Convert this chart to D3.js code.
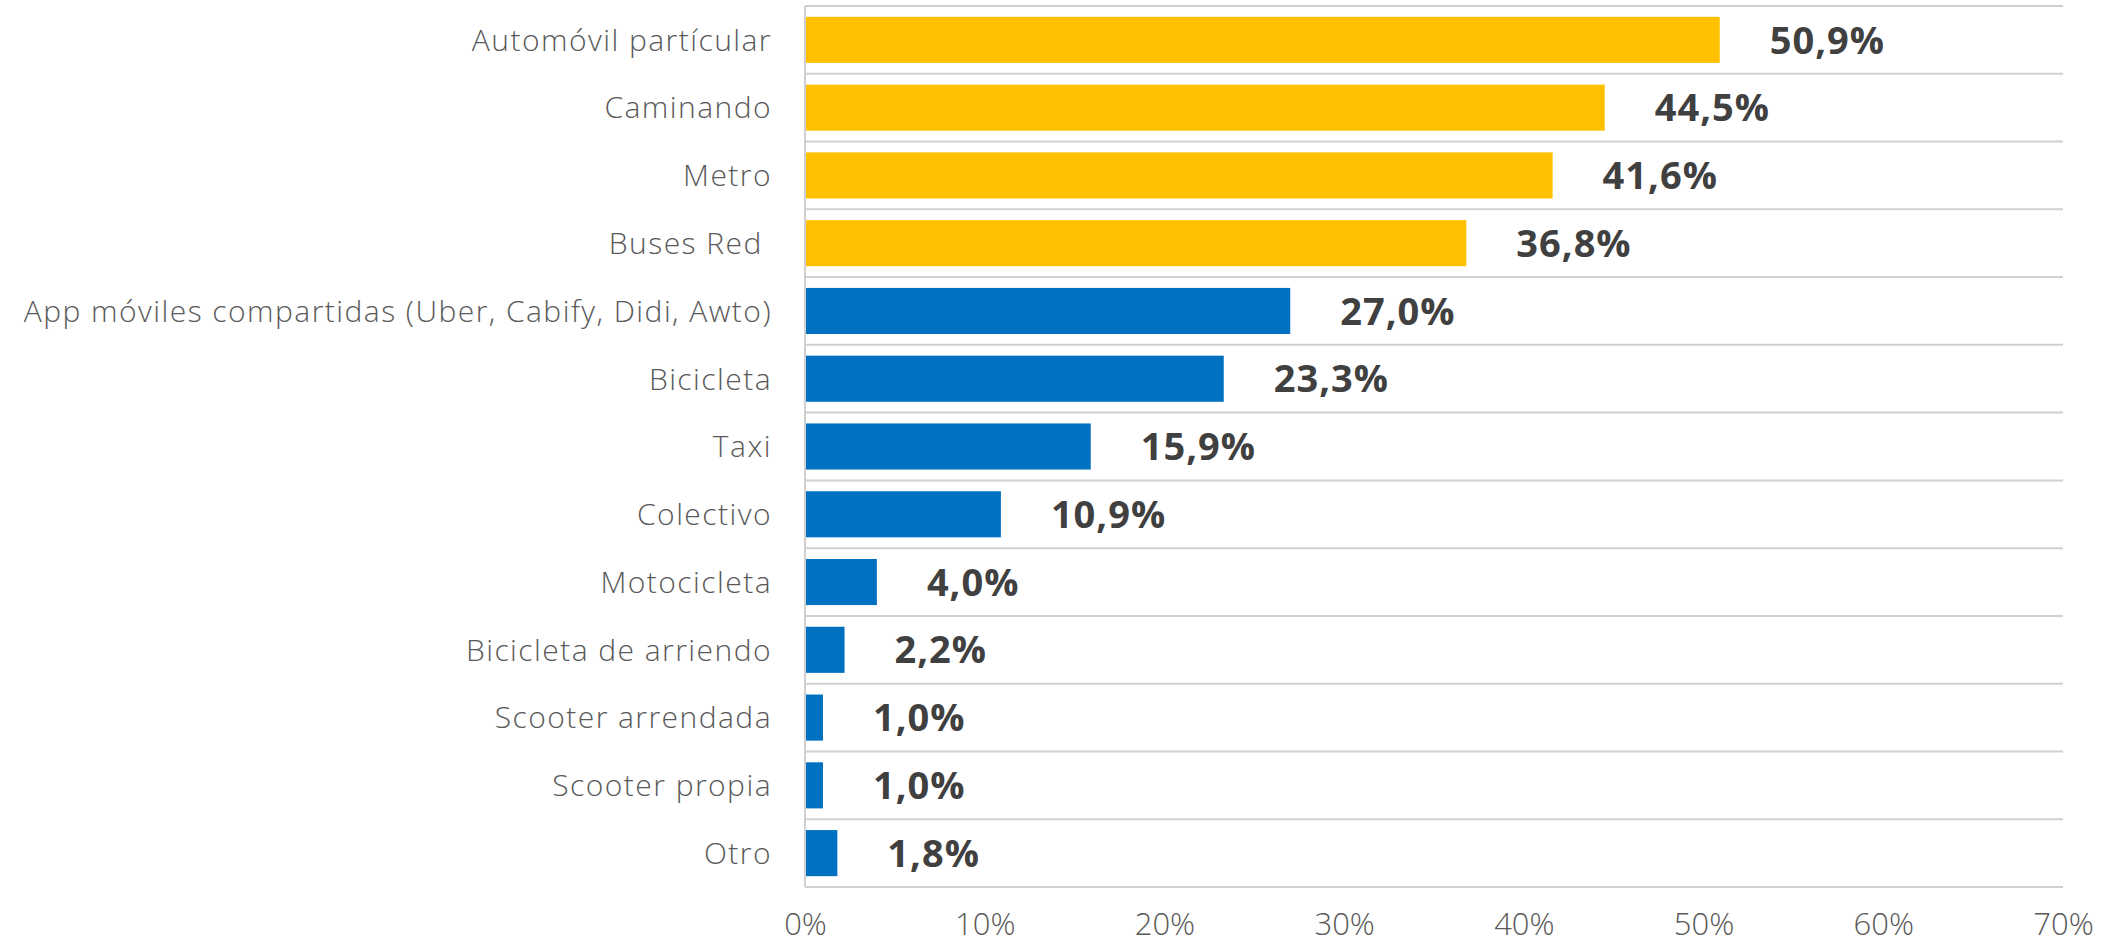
<!DOCTYPE html>
<html>
<head>
<meta charset="utf-8">
<script src="https://cdn.jsdelivr.net/npm/d3@7"></script>
<style>
  html, body { margin: 0; padding: 0; background: #fff; }
  svg { display: block; }
</style>
</head>
<body>
<svg id="chart" width="2111" height="943"></svg>
<script>
// modos de transporte, de arriba hacia abajo
var categories = [
  "Automóvil partícular",
  "Caminando",
  "Metro",
  "Buses Red ",
  "App móviles compartidas (Uber, Cabify, Didi, Awto)",
  "Bicicleta",
  "Taxi",
  "Colectivo",
  "Motocicleta",
  "Bicicleta de arriendo",
  "Scooter arrendada",
  "Scooter propia",
  "Otro"
];

// porcentaje de uso
var values = [50.9, 44.5, 41.6, 36.8, 27.0, 23.3, 15.9, 10.9, 4.0, 2.2, 1.0, 1.0, 1.8];

// los cuatro primeros van destacados en amarillo
var groups = ["top", "top", "top", "top", "rest", "rest", "rest", "rest", "rest", "rest", "rest", "rest", "rest"];

var xTicks = [0, 10, 20, 30, 40, 50, 60, 70];

var svg = d3.select("#chart");

var M = {left: 805, right: 2063, top: 6, bottom: 887};

var x = d3.scaleLinear().domain([0, 70]).range([M.left, M.right]);

var y = d3.scaleBand()
    .domain(categories)
    .range([M.top, M.bottom])
    .paddingInner(0.32)
    .paddingOuter(0.16);

var color = d3.scaleOrdinal().domain(["top", "rest"]).range(["#FFC000", "#0070C0"]);

var es = d3.formatLocale({decimal: ",", thousands: ".", grouping: [3], currency: ["$", ""]});
var fmtVal = es.format(".1f");

var rows = categories.map(function(c, i){
    return {name: c, value: values[i], group: groups[i]};
});

// lineas horizontales entre categorias
var gap = (y.step() - y.bandwidth()) / 2;
var lines = categories.map(function(c){ return y(c) - gap; });
lines.push(M.bottom);

svg.append("g").selectAll("line")
    .data(lines)
    .enter().append("line")
    .attr("x1", M.left).attr("x2", M.right)
    .attr("y1", function(d){ return d; })
    .attr("y2", function(d){ return d; })
    .style("stroke", "#D0D0D0")
    .style("stroke-width", 2);

// eje vertical
svg.append("line")
    .attr("x1", M.left).attr("x2", M.left)
    .attr("y1", M.top).attr("y2", M.bottom)
    .style("stroke", "#D0D0D0")
    .style("stroke-width", 2);

// barras
svg.append("g").selectAll("rect")
    .data(rows)
    .enter().append("rect")
    .attr("x", x(0) + 1)
    .attr("y", function(d){ return y(d.name); })
    .attr("width", function(d){ return x(d.value) - x(0) - 1; })
    .attr("height", y.bandwidth())
    .style("fill", function(d){ return color(d.group); });

// etiquetas de valor
svg.append("g").selectAll("text")
    .data(rows)
    .enter().append("text")
    .attr("x", function(d){ return x(d.value) + 50; })
    .attr("y", function(d){ return y(d.name) + y.bandwidth() / 2; })
    .attr("dy", "0.36em")
    .style("font-family", "'Open Sans', sans-serif")
    .style("font-weight", 700)
    .style("font-size", "38px")
    .style("letter-spacing", "1px")
    .style("fill", "#404040")
    .text(function(d){ return fmtVal(d.value) + "%"; });

// etiquetas de categoria
svg.append("g").selectAll("text")
    .data(rows)
    .enter().append("text")
    .attr("x", M.left - 33)
    .attr("y", function(d){ return y(d.name) + y.bandwidth() / 2; })
    .attr("dy", "0.36em")
    .attr("text-anchor", "end")
    .style("white-space", "pre")
    .style("font-family", "'Open Sans', sans-serif")
    .style("font-weight", 300)
    .style("font-size", "30px")
    .style("letter-spacing", "1.45px")
    .style("fill", "#595959")
    .text(function(d){ return d.name; });

// eje x
var xAxis = d3.axisBottom(x)
    .tickValues(xTicks)
    .tickSize(0)
    .tickPadding(0)
    .tickFormat(function(d){ return d + "%"; });

var gx = svg.append("g")
    .attr("transform", "translate(0," + 913 + ")")
    .call(xAxis);
gx.select(".domain").remove();
gx.selectAll("text")
    .attr("dy", "0.71em")
    .style("font-family", "'Open Sans', sans-serif")
    .style("font-weight", 300)
    .style("font-size", "31px")
    .style("fill", "#595959");
</script>
</body>
</html>
